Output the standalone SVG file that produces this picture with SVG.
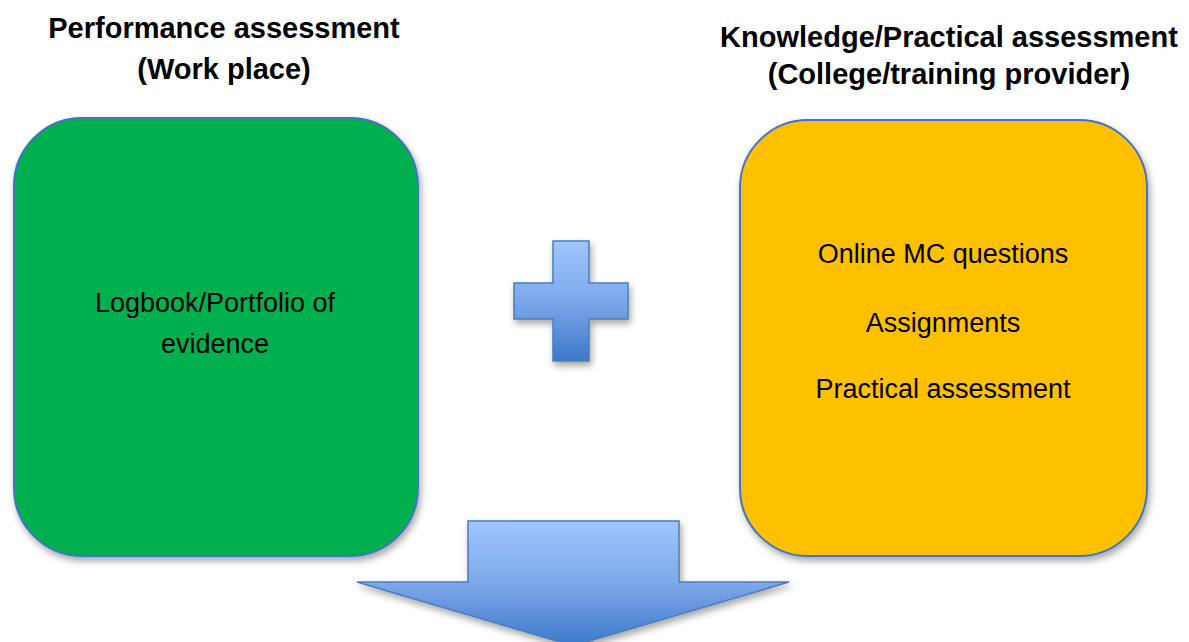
<svg xmlns="http://www.w3.org/2000/svg" width="1189" height="642" viewBox="0 0 1189 642">
  <style>
    .title { font-family: "Liberation Sans", Arial, sans-serif; font-weight: bold; font-size: 29px; fill: #000; text-anchor: middle; }
    .body { font-family: "Liberation Sans", Arial, sans-serif; font-size: 27px; fill: #000; text-anchor: middle; }
    .box { stroke: #4472C4; stroke-width: 2; filter: url(#shadow); }
    .blue { fill: url(#blueGrad); stroke: #4A7EBB; stroke-width: 1.5; filter: url(#shadow); }
  </style>
  <defs>
    <filter id="shadow" x="-10%" y="-10%" width="125%" height="125%">
      <feDropShadow dx="2" dy="4" stdDeviation="3.5" flood-color="#000" flood-opacity="0.35"/>
    </filter>
    <linearGradient id="blueGrad" x1="0" y1="0" x2="0" y2="1">
      <stop offset="0" stop-color="#A1C6FF"/>
      <stop offset="0.5" stop-color="#7DA8EA"/>
      <stop offset="1" stop-color="#3C78C9"/>
    </linearGradient>
  </defs>
  <rect width="1189" height="642" fill="#ffffff"/>

  <g id="title-left">
    <text class="title" x="224" y="38">Performance assessment</text>
    <text class="title" x="224" y="79">(Work place)</text>
  </g>
  <g id="title-right">
    <text class="title" x="949" y="47">Knowledge/Practical assessment</text>
    <text class="title" x="949" y="84">(College/training provider)</text>
  </g>

  <g id="performance-box">
    <rect class="box" x="14" y="118" width="404" height="438" rx="68" ry="68" fill="#00B050"/>
    <text class="body" x="215" y="312">Logbook/Portfolio of</text>
    <text class="body" x="215" y="353">evidence</text>
  </g>

  <g id="knowledge-box">
    <rect class="box" x="740" y="120" width="407" height="436" rx="68" ry="68" fill="#FFC000"/>
    <text class="body" x="943" y="263">Online MC questions</text>
    <text class="body" x="943" y="332">Assignments</text>
    <text class="body" x="943" y="398">Practical assessment</text>
  </g>

  <g id="connectors">
    <g id="plus">
      <path class="blue" d="M553,241 H589 V283 H628 V319 H589 V361 H553 V319 H514 V283 H553 Z"/>
    </g>
    <g id="down-arrow">
      <path class="blue" d="M468,521 H679 V582 H789 L573,646 L357,582 H468 Z"/>
    </g>
  </g>
</svg>
